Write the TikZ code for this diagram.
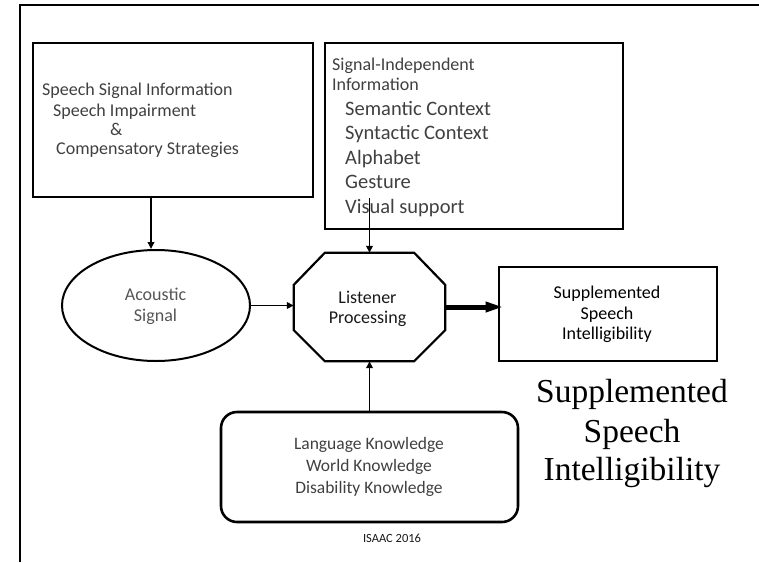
\documentclass[tikz,border=0pt]{standalone}
\usepackage{fontspec}
\setmainfont{Carlito}
\newfontfamily\timesf{Liberation Serif}
\usetikzlibrary{arrows.meta,shapes.geometric,calc}
\definecolor{tgray}{RGB}{64,64,64}
\definecolor{tlgray}{RGB}{85,85,85}
\definecolor{tdark}{RGB}{25,25,25}
\tikzset{
  boxw/.style={draw, rectangle, line width=2.6pt, inner sep=0pt},
  arr/.style={line width=1.8pt, -{Triangle[length=7pt,width=6.5pt]}},
  lt/.style={inner sep=0pt, anchor=base west, text=tgray, font=\fontsize{18}{20}\selectfont},
  ct/.style={inner sep=0pt, anchor=base, text=tgray, font=\fontsize{18}{20}\selectfont},
  bt/.style={inner sep=0pt, anchor=base west, text=tgray, font=\fontsize{20.5}{23}\selectfont},
  big/.style={inner sep=0pt, anchor=base, text=black, font=\timesf\fontsize{33.5}{38}\selectfont}
}
\begin{document}
\begin{tikzpicture}[x=1pt,y=-1pt]
\useasboundingbox (0,0) rectangle (759,562);
% outer frame (partial)
\draw[line width=2.6pt] (759,5) -- (20,5) -- (20,562);

% left box
\node[boxw, minimum width=280pt, minimum height=154pt] (lb) at (173,120) {};
\node[lt] (l1) at (42,95) {Speech Signal Information};
\node[lt] (l2) at (53,116) {Speech Impairment};
\node[lt] (l3) at (110,135) {\&};
\node[lt] (l4) at (56,154) {Compensatory Strategies};

% signal-independent box
\node[boxw, minimum width=298pt, minimum height=186pt] (sb) at (474,136) {};
\node[lt] (s1t) at (332,70) {Signal-Independent};
\node[lt] (s2t) at (332,90) {Information};
\node[bt] (s3t) at (345,115) {Semantic Context};
\node[bt] (s4t) at (345,139) {Syntactic Context};
\node[bt] (s5t) at (345,164) {Alphabet};
\node[bt] (s6t) at (345,188) {Gesture};
\node[bt] (s7t) at (345,213) {Visual support};

% acoustic signal ellipse
\node[draw, ellipse, line width=2pt, minimum width=188pt, minimum height=111pt, inner sep=0pt] (ac) at (156,305.5) {};
\node[ct, text=tlgray] (a1t) at (155.5,300) {Acoustic};
\node[ct, text=tlgray] (a2t) at (155.5,321) {Signal};

% listener processing octagon
\node[rectangle, minimum width=151pt, minimum height=108pt, inner sep=0pt] (lp) at (369.5,307) {};
\draw[line width=2.2pt] ([xshift=31pt]lp.north west) -- ([xshift=-31pt]lp.north east)
  -- ([yshift=-32pt]lp.north east) -- ([yshift=31pt]lp.south east)
  -- ([xshift=-31pt]lp.south east) -- ([xshift=31pt]lp.south west)
  -- ([yshift=31pt]lp.south west) -- ([yshift=-32pt]lp.north west) -- cycle;
\node[ct, text=tdark] (p1t) at (367.5,303) {Listener};
\node[ct, text=tdark] (p2t) at (367.5,323) {Processing};

% result box
\node[boxw, minimum width=218pt, minimum height=94pt] (res) at (608,314) {};
\node[ct, text=black] (r1t) at (607,298) {Supplemented};
\node[ct, text=black] (r2t) at (607,319) {Speech};
\node[ct, text=black] (r3t) at (607,339) {Intelligibility};

% knowledge box
\node[boxw, rounded corners=16pt, minimum width=297pt, minimum height=110pt] (bk) at (369.5,467) {};
\node[ct, font=\fontsize{17.5}{20}\selectfont] (k1t) at (369,449) {Language Knowledge};
\node[ct, font=\fontsize{17.5}{20}\selectfont] (k2t) at (369,471) {World Knowledge};
\node[ct, font=\fontsize{17.5}{20}\selectfont] (k3t) at (369,493) {Disability Knowledge};

% big caption
\node[big] (g1) at (632,402) {Supplemented};
\node[big] (g2) at (632,442) {Speech};
\node[big] (g3) at (632,480) {Intelligibility};

% footer
\node[ct, text=tdark, font=\fontsize{12.5}{14}\selectfont] (ft) at (392,542) {ISAAC 2016};

% connectors
\coordinate (c1) at ([xshift=-22pt]lb.south);
\draw[arr] (c1) -- (c1 |- ac.north);
\coordinate (c2) at (369.5,198);
\draw[arr] (c2) -- (lp.north);
\draw[arr] (ac.east) -- (ac.east -| lp.west);
\draw[arr] (bk.north) -- (lp.south);
\draw[line width=5pt, -{Triangle[length=18pt,width=9.5pt]}] (lp.east) -- ($(lp.east -| res.west)+(6,0)$);
\end{tikzpicture}
\end{document}
